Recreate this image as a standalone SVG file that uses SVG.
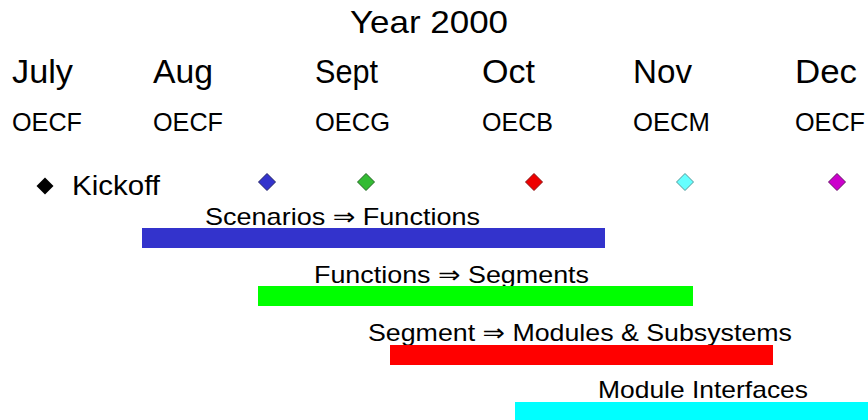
<svg xmlns="http://www.w3.org/2000/svg" width="868" height="420" viewBox="0 0 868 420">
  <style>
    text { font-family: "Liberation Sans", Arial, "DejaVu Sans", sans-serif; fill: #000; }
    .title { font-size: 32px; }
    .month { font-size: 33px; }
    .org { font-size: 25px; }
    .label { font-size: 24px; }
    .kick { font-size: 27px; }
    .ms { stroke-width: 1; }
  </style>
  <defs>
    <polygon id="diamond" points="0,-8.5 8.5,0 0,8.5 -8.5,0"/>
  </defs>
  <rect width="868" height="420" fill="#fff"/>

  <!-- heading -->
  <g id="heading">
    <text class="title" x="350" y="33" textLength="158" lengthAdjust="spacingAndGlyphs">Year 2000</text>
  </g>

  <!-- months and meeting hosts -->
  <g id="months">
    <text class="month" x="12" y="83" textLength="61" lengthAdjust="spacingAndGlyphs">July</text>
    <text class="month" x="153" y="83" textLength="60" lengthAdjust="spacingAndGlyphs">Aug</text>
    <text class="month" x="315" y="83" textLength="63" lengthAdjust="spacingAndGlyphs">Sept</text>
    <text class="month" x="482" y="83" textLength="53" lengthAdjust="spacingAndGlyphs">Oct</text>
    <text class="month" x="633" y="83" textLength="59" lengthAdjust="spacingAndGlyphs">Nov</text>
    <text class="month" x="795" y="83" textLength="62" lengthAdjust="spacingAndGlyphs">Dec</text>
  </g>
  <g id="hosts">
    <text class="org" x="12" y="131" textLength="70" lengthAdjust="spacingAndGlyphs">OECF</text>
    <text class="org" x="153" y="131" textLength="70" lengthAdjust="spacingAndGlyphs">OECF</text>
    <text class="org" x="315" y="131" textLength="75" lengthAdjust="spacingAndGlyphs">OECG</text>
    <text class="org" x="482" y="131" textLength="71" lengthAdjust="spacingAndGlyphs">OECB</text>
    <text class="org" x="633" y="131" textLength="77" lengthAdjust="spacingAndGlyphs">OECM</text>
    <text class="org" x="795" y="131" textLength="70" lengthAdjust="spacingAndGlyphs">OECF</text>
  </g>

  <!-- milestones -->
  <g id="kickoff">
    <use href="#diamond" x="45" y="186" fill="#000"/>
    <text class="kick" x="72" y="195" textLength="88" lengthAdjust="spacingAndGlyphs">Kickoff</text>
  </g>
  <g id="milestones">
    <use href="#diamond" x="267" y="182" fill="#3333cc" stroke="#222266" class="ms"/>
    <use href="#diamond" x="366" y="182" fill="#33bb33" stroke="#226622" class="ms"/>
    <use href="#diamond" x="534" y="182" fill="#ee0000" stroke="#881111" class="ms"/>
    <use href="#diamond" x="685" y="182" fill="#66ffff" stroke="#559999" class="ms"/>
    <use href="#diamond" x="837" y="182" fill="#cc00cc" stroke="#661166" class="ms"/>
  </g>

  <!-- activity bars -->
  <g id="scenarios">
    <text class="label" x="205" y="225" textLength="275" lengthAdjust="spacingAndGlyphs">Scenarios ⇒ Functions</text>
    <rect x="142" y="228" width="463" height="20" fill="#3333cc"/>
  </g>
  <g id="functions">
    <text class="label" x="314" y="283" textLength="275" lengthAdjust="spacingAndGlyphs">Functions ⇒ Segments</text>
    <rect x="258" y="286" width="435" height="20" fill="#00ff00"/>
  </g>
  <g id="segment">
    <text class="label" x="368" y="341" textLength="424" lengthAdjust="spacingAndGlyphs">Segment ⇒ Modules &amp; Subsystems</text>
    <rect x="390" y="345" width="383" height="20" fill="#ff0000"/>
  </g>
  <g id="interfaces">
    <text class="label" x="598" y="398" textLength="210" lengthAdjust="spacingAndGlyphs">Module Interfaces</text>
    <rect x="515" y="402" width="353" height="18" fill="#00ffff"/>
  </g>
</svg>
